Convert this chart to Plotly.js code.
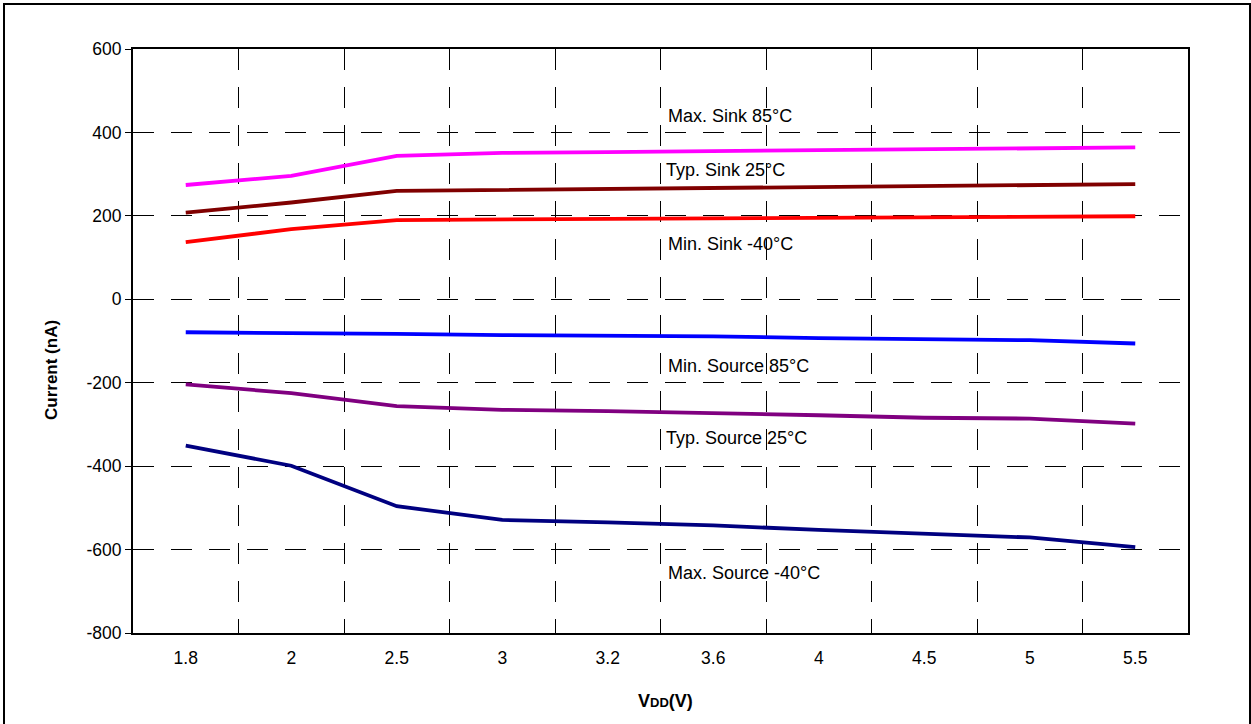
<!DOCTYPE html>
<html>
<head>
<meta charset="utf-8">
<script src="https://cdn.plot.ly/plotly-3.0.1.min.js"></script>
<style>
  html, body { margin: 0; padding: 0; background: #fff; }
  #chart { width: 1251px; height: 724px; }
</style>
</head>
<body>
<div id="chart"></div>
<script>
// Categories (VDD in volts, equally spaced on the chart)
const vdd = ["1.8", "2", "2.5", "3", "3.2", "3.6", "4", "4.5", "5", "5.5"];

// Series values (nA)
const maxSink85 = [274, 296, 344, 351, 353, 355, 357, 359, 361, 364];
const typSink25 = [208, 232, 260, 262, 264, 266, 269, 271, 273, 276];
const minSinkM40 = [137, 168, 190, 191, 192, 193, 194, 196, 197, 199];
const minSource85 = [-79, -80, -83, -86, -87, -89, -93, -96, -98, -106];
const typSource25 = [-204, -225, -256, -265, -268, -272, -278, -284, -286, -298];
const maxSourceM40 = [-351, -399, -496, -529, -535, -542, -553, -561, -571, -594];

// Series names
const seriesNames = ["Max. Sink 85°C", "Typ. Sink 25°C", "Min. Sink -40°C",
                     "Min. Source 85°C", "Typ. Source 25°C", "Max. Source -40°C"];
const seriesColors = ["#FF00FF", "#800000", "#FF0000", "#0000FF", "#800080", "#000080"];
const seriesData = [maxSink85, typSink25, minSinkM40, minSource85, typSource25, maxSourceM40];

// Label positions (y in data units)
const labelY = [439, 310, 133, -159, -332, -657];
const labelX = [0.505, 0.503, 0.505, 0.505, 0.503, 0.505];

const yTicks = [-800, -600, -400, -200, 0, 200, 400, 600];

const FONT = "Liberation Sans, Arial, sans-serif";

const traces = seriesData.map((vals, i) => ({
  type: "scatter",
  mode: "lines",
  x: vdd,
  y: vals,
  name: seriesNames[i],
  line: { color: seriesColors[i], width: 3.8 },
  hoverinfo: "x+y+name"
}));

const annotations = seriesNames.map((t, i) => ({
  text: t,
  xref: "paper", yref: "y",
  x: labelX[i], y: labelY[i],
  xanchor: "left", yanchor: "middle",
  showarrow: false,
  font: { family: FONT, size: 18, color: "#000" }
}));

annotations.push({
  text: "<b>Current (nA)</b>",
  xref: "paper", yref: "paper",
  x: (52 - 133) / 1055, y: (633 - 370) / 584,
  xanchor: "center", yanchor: "middle",
  textangle: -90,
  showarrow: false,
  font: { family: FONT, size: 17, color: "#000" }
});
annotations.push({
  text: "<b>V<span style=\"font-size:13px\">DD</span>(V)</b>",
  xref: "paper", yref: "paper",
  x: (665 - 133) / 1055, y: (633 - 701) / 584,
  xanchor: "center", yanchor: "middle",
  showarrow: false,
  font: { family: FONT, size: 18, color: "#000" }
});

const layout = {
  width: 1251, height: 724,
  margin: { l: 133, r: 63, t: 49, b: 91 },
  paper_bgcolor: "#fff",
  plot_bgcolor: "#fff",
  showlegend: false,
  font: { family: FONT, color: "#000" },
  xaxis: {
    type: "category",
    categoryorder: "array",
    categoryarray: vdd,
    range: [-0.5, 9.5],
    tickson: "boundaries",
    ticks: "",
    showgrid: true,
    gridcolor: "#000",
    gridwidth: 1,
    griddash: "21px,17px",
    showline: true,
    linecolor: "#000",
    linewidth: 2,
    mirror: true,
    zeroline: false,
    tickfont: { family: FONT, size: 17.5, color: "#000" },
    ticklabelstandoff: 8,
    fixedrange: true
  },
  yaxis: {
    range: [-800, 600],
    tickvals: yTicks,
    ticktext: yTicks.map(String),
    ticks: "outside",
    ticklen: 6,
    tickwidth: 1,
    tickcolor: "#000",
    showgrid: true,
    gridcolor: "#000",
    gridwidth: 1,
    griddash: "21px,17px",
    zeroline: false,
    showline: true,
    linecolor: "#000",
    linewidth: 2,
    mirror: true,
    tickfont: { family: FONT, size: 17.5, color: "#000" },
    fixedrange: true
  },
  annotations: annotations,
  shapes: [{
    type: "rect",
    xref: "paper", yref: "paper",
    x0: (4 - 133) / 1055, x1: (1250 - 133) / 1055,
    y0: (633 - 740) / 584, y1: (633 - 4) / 584,
    line: { color: "#000", width: 2 },
    fillcolor: "rgba(0,0,0,0)",
    layer: "above"
  }]
};

Plotly.newPlot("chart", traces, layout, { staticPlot: true, displayModeBar: false });
</script>
</body>
</html>
